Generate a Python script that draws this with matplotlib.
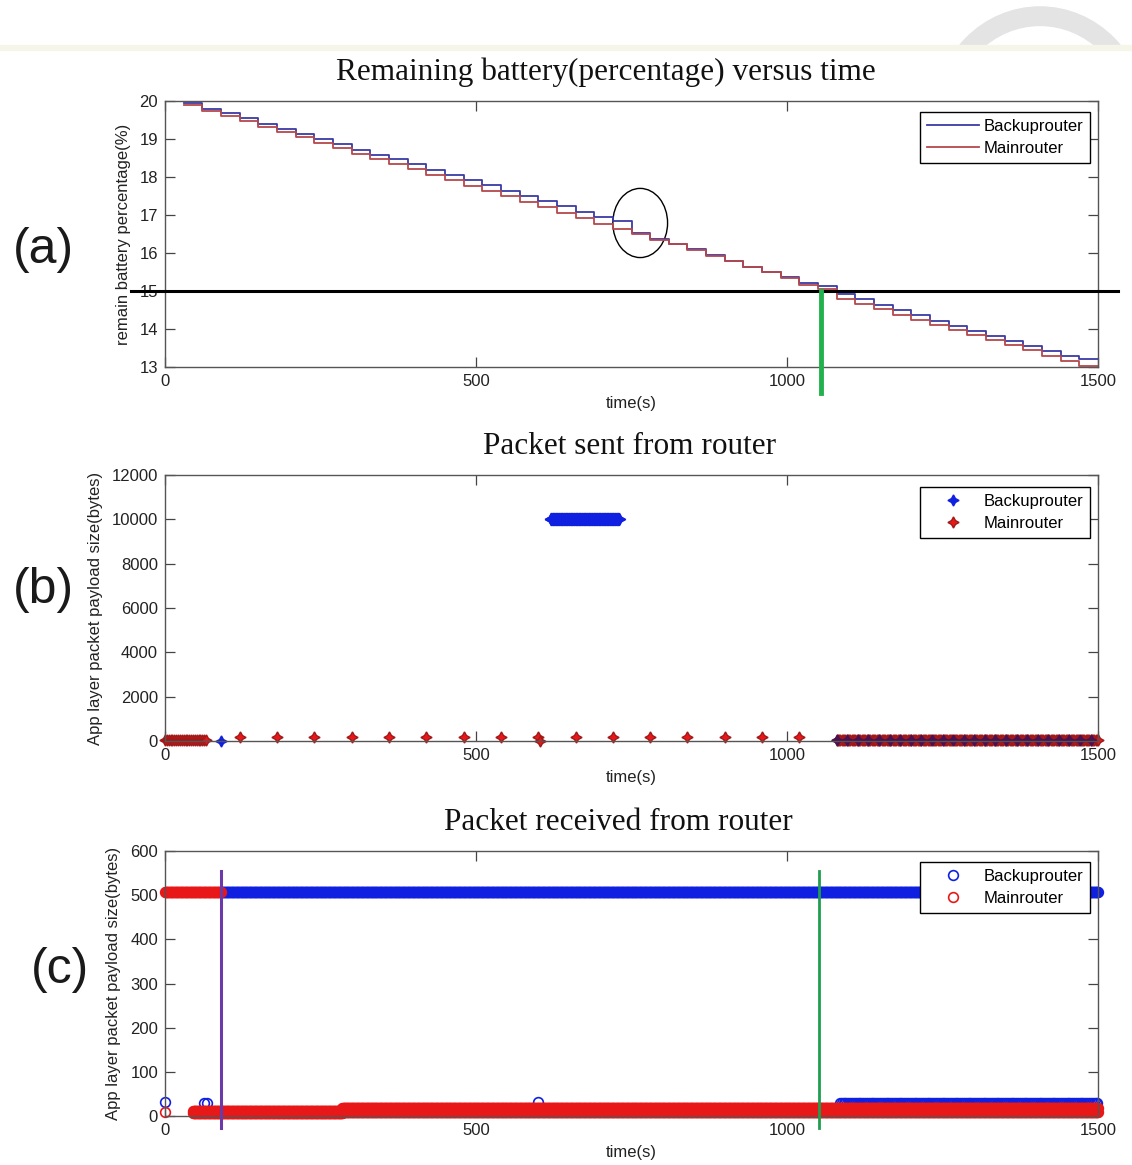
import numpy as np
import matplotlib
matplotlib.use('Agg')
import matplotlib.pyplot as plt
from matplotlib.patches import Ellipse, Wedge, Rectangle

plt.rcParams['font.family'] = ['Liberation Sans', 'DejaVu Sans']

W, H = 1132, 1165

# ---- (a) remaining battery, step every 30 s
batt_t = np.arange(30, 1500, 30)
backup_batt = [19.94, 19.79, 19.68, 19.54, 19.39, 19.27, 19.13, 19.00, 18.86, 18.72,
               18.58, 18.47, 18.33, 18.18, 18.05, 17.91, 17.79, 17.64, 17.51, 17.37,
               17.23, 17.09, 16.96, 16.84, 16.53, 16.37, 16.25, 16.10, 15.95, 15.80,
               15.64, 15.51, 15.38, 15.22, 15.14, 14.92, 14.78, 14.64, 14.50, 14.36,
               14.22, 14.08, 13.95, 13.82, 13.68, 13.55, 13.42, 13.30, 13.20]
main_batt = [19.90, 19.73, 19.61, 19.47, 19.31, 19.18, 19.04, 18.90, 18.76, 18.61,
             18.47, 18.35, 18.20, 18.05, 17.91, 17.77, 17.64, 17.49, 17.35, 17.20,
             17.06, 16.92, 16.77, 16.62, 16.50, 16.35, 16.23, 16.08, 15.93, 15.78,
             15.62, 15.49, 15.35, 15.17, 15.06, 14.80, 14.66, 14.52, 14.38, 14.25,
             14.11, 13.97, 13.84, 13.71, 13.57, 13.44, 13.30, 13.17, 13.02]
batt_threshold = 15
switch_t = 1055

# ---- (b) packets sent (bytes)
main_sent_start_t = np.arange(0, 68, 3)
main_sent_start_v = 60
main_hello_t = [120, 180, 240, 300, 360, 420, 480, 540, 600, 660, 720, 780, 840, 900, 960, 1020]
main_hello_v = 200
main_extra_t = [603]
main_extra_v = [0]
main_sent_end_t = np.arange(1080, 1501, 2)
main_sent_end_v = 40
backup_single_t = [90]
backup_single_v = [0]
backup_burst_t = np.arange(620, 731, 1)
backup_burst_v = 10000
backup_sent_end_t = np.arange(1080, 1501, 17)
backup_sent_end_v = 40

# ---- (c) packets received (bytes)
main_recv_hi_t = np.arange(0, 91, 1)
main_recv_hi_v = 507
main_recv_lo1_t = np.arange(45, 286, 1)
main_recv_lo1_v = [6, 11]
main_recv_lo2_t = np.arange(285, 1501, 1)
main_recv_lo2_v = [9, 18]
main_recv_single_t = [0]
main_recv_single_v = [10]
backup_recv_hi_t = np.arange(90, 1501, 1)
backup_recv_hi_v = 507
backup_recv_lo_t = np.arange(1085, 1501, 3)
backup_recv_lo_v = 29
backup_recv_single_t = [0, 62, 68, 600]
backup_recv_single_v = [32, 30, 30, 32]
recv_switch_t = [90, 1052]

blue_line = '#3a3aa6'
red_line = '#b5484c'
blue_m = '#1020e0'
red_m = '#e81818'

fig = plt.figure(figsize=(W / 100, H / 100), dpi=100)


def make_axes(top, bottom):
    ax = fig.add_axes([165 / W, 1 - bottom / H, (1098 - 165) / W, (bottom - top) / H])
    ax.set_xlim(0, 1500)
    ax.set_xticks([0, 500, 1000, 1500])
    ax.tick_params(direction='in', top=True, right=True, length=7, width=0.9,
                   colors='#444444', labelcolor='#222222', labelsize=12, pad=5)
    for s in ax.spines.values():
        s.set_color('#555555')
        s.set_linewidth(1.0)
    return ax


def finish(ax, title, tx, ylab, ylx):
    ax.text(tx, 1.109, title, transform=ax.transAxes, ha='center', va='center',
            family='Liberation Serif', fontsize=22.5, color='#111111')
    ax.set_xlabel('time(s)', fontsize=12, color='#222222')
    ax.xaxis.set_label_coords(0.5, -0.108)
    ax.set_ylabel(ylab, fontsize=12, color='#222222')
    ax.yaxis.set_label_coords(ylx, 0.5)


def leg(ax, top, hl):
    lg = ax.legend(loc='upper right', bbox_to_anchor=(0.9914, top), fontsize=12,
                   fancybox=False, framealpha=1, edgecolor='black', borderpad=0.4,
                   labelspacing=0.45, handlelength=hl, handletextpad=0.3,
                   borderaxespad=0)
    lg.get_frame().set_linewidth(1.0)
    lg.set_zorder(10)


# (a)
ax1 = make_axes(101, 367)
ax1.set_ylim(13, 20)
ax1.set_yticks(range(13, 21))
ax1.step(list(batt_t) + [1500], backup_batt + [backup_batt[-1]], where='post',
         color=blue_line, lw=1.3, label='Backuprouter')
ax1.step(list(batt_t) + [1500], main_batt + [main_batt[-1]], where='post',
         color=red_line, lw=1.3, label='Mainrouter')
ax1.plot([-0.036, 1.021], [batt_threshold, batt_threshold], color='black', lw=2.2,
         transform=ax1.get_yaxis_transform(), clip_on=False, zorder=5)
ax1.plot([switch_t, switch_t], [batt_threshold, 12.32], color='#22b14c', lw=3.5,
         clip_on=False, zorder=6)
ax1.add_patch(Ellipse((764, 16.79), 88, 1.82, fill=False, ec='black', lw=1.0))
leg(ax1, 0.9586, 3.1)
finish(ax1, 'Remaining battery(percentage) versus time', 0.4727,
       'remain battery percentage(%)', -0.036)

# (b)
star = (4, 1, 0)
ax2 = make_axes(475, 741)
ax2.set_ylim(0, 12000)
ax2.set_yticks(range(0, 12001, 2000))
ax2.plot(backup_single_t, backup_single_v, ls='none', marker=star, ms=8, color=blue_m,
         clip_on=False, label='Backuprouter')
ax2.plot(backup_burst_t, [backup_burst_v] * len(backup_burst_t), ls='none', marker=star,
         ms=9, color=blue_m, clip_on=False)
ax2.plot(main_sent_start_t, [main_sent_start_v] * len(main_sent_start_t), ls='none',
         marker=star, ms=8, color=red_m, mec='#a01818', clip_on=False, label='Mainrouter')
ax2.plot(main_hello_t, [main_hello_v] * len(main_hello_t), ls='none', marker=star, ms=8,
         color=red_m, mec='#a01818', clip_on=False)
ax2.plot(main_extra_t, main_extra_v, ls='none', marker=star, ms=8, color=red_m,
         mec='#a01818', clip_on=False)
ax2.plot(main_sent_end_t, [main_sent_end_v] * len(main_sent_end_t), ls='none',
         marker=star, ms=8, color=red_m, mec='#a01818', clip_on=False)
ax2.plot(backup_sent_end_t, [backup_sent_end_v] * len(backup_sent_end_t), ls='none',
         marker=star, ms=8, color='#4a1050', clip_on=False)
leg(ax2, 0.955, 3.1)
finish(ax2, 'Packet sent from router', 0.498,
       'App layer packet payload size(bytes)', -0.066)

# (c)
ax3 = make_axes(851, 1116)
ax3.set_ylim(0, 600)
ax3.set_yticks(range(0, 601, 100))
mk = dict(ls='none', marker='o', ms=7, mfc='none', mew=1.2, clip_on=False)
ax3.plot(backup_recv_single_t, backup_recv_single_v, mec=blue_m, label='Backuprouter', **mk)
ax3.plot(main_recv_single_t, main_recv_single_v, mec=red_m, label='Mainrouter', **mk)
ax3.plot(backup_recv_hi_t, [backup_recv_hi_v] * len(backup_recv_hi_t), mec=blue_m, **mk)
ax3.plot(main_recv_hi_t, [main_recv_hi_v] * len(main_recv_hi_t), mec=red_m, **mk)
ax3.plot(backup_recv_lo_t, [backup_recv_lo_v] * len(backup_recv_lo_t), mec=blue_m, **mk)
for v in main_recv_lo1_v:
    ax3.plot(main_recv_lo1_t, [v] * len(main_recv_lo1_t), mec=red_m, **mk)
for v in main_recv_lo2_v:
    ax3.plot(main_recv_lo2_t, [v] * len(main_recv_lo2_t), mec=red_m, **mk)
ax3.plot([recv_switch_t[0]] * 2, [555, -27], color='#6a3aa8', lw=2.2, clip_on=False, zorder=6)
ax3.plot([recv_switch_t[1]] * 2, [555, -27], color='#1e9e4e', lw=2.0, clip_on=False, zorder=6)
leg(ax3, 0.958, 3.1)
finish(ax3, 'Packet received from router', 0.4855,
       'App layer packet payload size(bytes)', -0.047)

# panel letters
for txt, x, y in [('(a)', 43, 250), ('(b)', 43, 590), ('(c)', 60, 970)]:
    fig.text(x / W, 1 - y / H, txt, ha='center', va='center', fontsize=36,
             fontweight='light', color='#1a1a1a')

# faint watermark at the top right
clip = Rectangle((0, 1 - 46 / H), 1, 46 / H, transform=fig.transFigure)
ring = Wedge((1040 / W, 1 - 115 / H), 105 / W, 0, 180, width=18 / W,
             transform=fig.transFigure, color='#e4e4e4', zorder=0)
fig.patches.append(ring)
ring.set_clip_path(clip)
fig.patches.append(Rectangle((0, 1 - 50 / H), 1, 5 / H, transform=fig.transFigure,
                             color='#f5f5ea', zorder=0))

fig.savefig('out.png', dpi=100)
